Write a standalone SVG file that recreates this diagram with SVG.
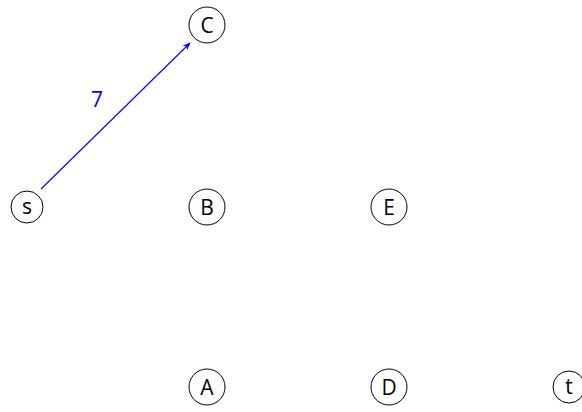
<svg xmlns="http://www.w3.org/2000/svg" width="582" height="412" viewBox="0 0 582 412">
<style>
.n circle{fill:none;stroke:#000;stroke-width:1}
.n text{font-family:"Open Sans","DejaVu Sans",sans-serif;font-size:21px;text-anchor:middle;dominant-baseline:central;fill:#000}
.e{stroke:#0000ff;stroke-width:1.1;fill:none}
.lbl{font-family:"Open Sans","DejaVu Sans",sans-serif;font-size:21px;fill:#0000ff;text-anchor:middle;dominant-baseline:central}
</style>
<defs>
<marker id="ah" viewBox="0 0 10 10" refX="9" refY="5" markerWidth="8" markerHeight="8" orient="auto" markerUnits="userSpaceOnUse">
<path d="M0,1 L10,5 L0,9 L3,5 Z" fill="#0000ff"/>
</marker>
</defs>
<rect width="582" height="412" fill="#fff"/>
<g id="edges">
<line class="e" x1="41" y1="189" x2="190" y2="43" marker-end="url(#ah)"/>
<text class="lbl" x="97" y="99">7</text>
</g>
<g id="s" class="n"><circle cx="27" cy="207" r="16"/><text x="27" y="206">s</text></g>
<g id="C" class="n"><circle cx="207" cy="25" r="18"/><text x="207" y="25">C</text></g>
<g id="B" class="n"><circle cx="207" cy="207" r="18"/><text x="207" y="207">B</text></g>
<g id="E" class="n"><circle cx="389" cy="207" r="18"/><text x="389" y="207">E</text></g>
<g id="A" class="n"><circle cx="207" cy="387" r="18"/><text x="207" y="387">A</text></g>
<g id="D" class="n"><circle cx="389" cy="387" r="18"/><text x="389" y="387">D</text></g>
<g id="t" class="n"><circle cx="569" cy="387" r="16"/><text x="569" y="386">t</text></g>
</svg>
